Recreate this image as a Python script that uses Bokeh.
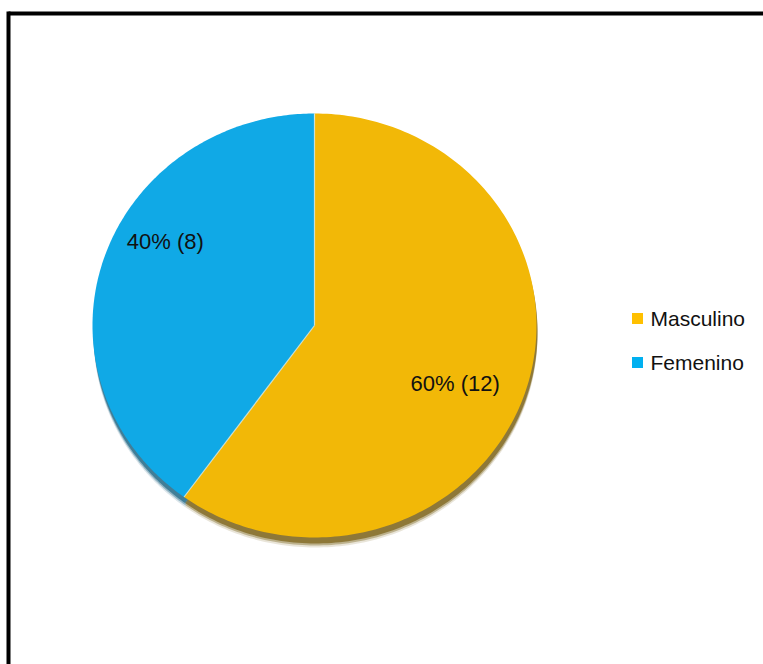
import numpy as np
from bokeh.plotting import figure
from bokeh.models import Range1d
from bokeh.core.properties import value
from bokeh.embed import file_html
from bokeh.resources import INLINE

# ---- data ----
categories = ["Masculino", "Femenino"]
counts = [12, 8]
slice_colors = ["#F2B807", "#10A9E6"]
legend_colors = ["#FFC000", "#00B0F0"]
shadow_colors = ["#6E5200", "#0B5A7A"]

W, H = 763, 664
p = figure(width=W, height=H, output_backend="svg", toolbar_location=None,
           x_range=Range1d(0, W), y_range=Range1d(H, 0), min_border=0)
p.axis.visible = False
p.grid.visible = False
p.outline_line_color = None
p.background_fill_color = "white"
p.border_fill_color = "white"

cx, cy, rx, ry = 314, 325, 222, 212
total = float(sum(counts))
fracs = [c / total for c in counts]
cum = np.concatenate([[0], np.cumsum(fracs)])


def wedge_pts(a0, a1, dx=0.0, dy=0.0):
    t = np.linspace(a0, a1, 200)
    xs = np.concatenate([[cx + dx], cx + dx + rx * np.sin(t), [cx + dx]])
    ys = np.concatenate([[cy + dy], cy + dy - ry * np.cos(t), [cy + dy]])
    return list(xs), list(ys)


# shadow (soft, offset downward)
for off, alpha in [(10, 0.15), (8, 0.35), (6, 0.6)]:
    for i in range(len(counts)):
        a0, a1 = cum[i] * 2 * np.pi, cum[i + 1] * 2 * np.pi
        xs, ys = wedge_pts(a0, a1, dx=1, dy=off)
        p.patch(xs, ys, fill_color=shadow_colors[i], fill_alpha=alpha, line_color=None)

# slices
for i in range(len(counts)):
    a0, a1 = cum[i] * 2 * np.pi, cum[i + 1] * 2 * np.pi
    xs, ys = wedge_pts(a0, a1)
    p.patch(xs, ys, fill_color=slice_colors[i], line_color=None)

# slice separators
for i in range(len(counts)):
    a = cum[i] * 2 * np.pi
    p.line([cx, cx + rx * np.sin(a)], [cy, cy - ry * np.cos(a)],
           line_color="#E8F0E0", line_width=1.2, line_alpha=0.8)

# labels inside slices (best-fit style placement)
labels = [f"{round(f*100)}% ({c})" for f, c in zip(fracs, counts)]
lab_r = [0.69, 0.78]
lab_shift = [np.radians(5.3), np.radians(12.5)]
lx, ly = [], []
for i in range(len(counts)):
    mid = (cum[i] + cum[i + 1]) / 2 * 2 * np.pi + lab_shift[i]
    lx.append(cx + rx * lab_r[i] * np.sin(mid))
    ly.append(cy - ry * lab_r[i] * np.cos(mid))
p.text(x=lx, y=ly, text=labels, text_font=value("Liberation Sans"),
       text_font_size="22px", text_color="#111111",
       text_align="center", text_baseline="middle")

# legend
leg_y = [318, 362]
p.scatter(x=[637] * len(categories), y=leg_y, marker="square", size=11,
          fill_color=legend_colors, line_color=None)
p.text(x=[650] * len(categories), y=leg_y, text=categories,
       text_font=value("Liberation Sans"), text_font_size="21px",
       text_color="#111111", text_align="left", text_baseline="middle")

# frame border (top and left)
p.line([8, W], [13, 13], line_color="black", line_width=4)
p.line([8, 8], [11, H], line_color="black", line_width=4)

open("out.html", "w").write(file_html(p, INLINE))
